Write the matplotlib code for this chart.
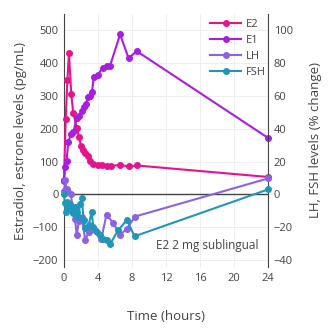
import numpy as np
import matplotlib
matplotlib.use("Agg")
import matplotlib.pyplot as plt

plt.rcParams['font.family'] = ['Open Sans', 'DejaVu Sans']

# estradiol (pg/mL)
t_e2 = [0, 0.2, 0.4, 0.58, 0.85, 1.08, 1.5, 1.75, 2.0, 2.25, 2.5, 2.8, 3.05, 3.45, 4.0, 4.5, 5.0, 5.5, 6.6, 7.6, 8.55, 24]
e2 = [45, 230, 348, 430, 307, 249, 203, 176, 148, 135, 127, 117, 103, 94, 90, 88, 87, 86, 90, 85, 88, 53]

# estrone (pg/mL)
t_e1 = [0, 0.15, 0.3, 0.5, 0.8, 1.1, 1.5, 1.8, 2.1, 2.35, 2.6, 2.8, 3.05, 3.3, 3.5, 4.0, 4.55, 5.0, 5.4, 6.6, 7.6, 8.55, 24]
e1 = [40, 83, 103, 158, 185, 189, 234, 239, 255, 265, 275, 295, 300, 312, 358, 364, 386, 391, 390, 487, 414, 436, 172]

# LH (% change)
t_lh = [0, 0.15, 0.3, 0.5, 0.8, 1.05, 1.3, 1.5, 1.75, 2.1, 2.5, 2.9, 3.25, 3.65, 4.4, 5.0, 5.8, 6.6, 7.4, 8.35, 24]
lh = [2, 8.5, 3.4, 1.4, 0.4, -10.7, -15, -24.8, -16, -13.7, -27.9, -22.8, -20.8, -21.8, -26.9, -12.3, -17.6, -24.7, -20.8, -13.5, 9.7]

# FSH (% change)
t_fsh = [0, 0.1, 0.2, 0.3, 0.5, 0.7, 0.9, 1.1, 1.3, 1.5, 1.7, 1.9, 2.1, 2.3, 2.5, 2.9, 3.25, 3.45, 3.85, 4.2, 4.6, 5.0, 5.4, 6.4, 7.4, 8.3, 24]
fsh = [0, -5.5, -11, -4.6, -7.7, -5.6, -9.7, -11.6, -7.7, -10.7, -13.7, -5.7, -2, -15.7, -20.6, -18.8, -10.7, -19.8, -22.8, -24.8, -26.9, -27.9, -30.5, -21.6, -15.6, -25.5, 3]

c_e2 = "#e5138c"
c_e1 = "#a81ee0"
c_lh = "#8a63e3"
c_fsh = "#2196b8"
grey = "#444444"

fig = plt.figure(figsize=(3.3, 3.3), dpi=100)
ax = fig.add_axes([64/330, 1-267/330, (268-64)/330, (267-14)/330])
ax2 = ax.twinx()

ax.set_xlim(0, 24)
ax.set_ylim(-221, 549)
ax2.set_ylim(-221/5, 549/5)

ax.set_xticks([0, 4, 8, 12, 16, 20, 24])
ax.set_yticks([-200, -100, 0, 100, 200, 300, 400, 500])
ax2.set_yticks([-40, -20, 0, 20, 40, 60, 80, 100])
ax.grid(True, color="#eeeeee", lw=0.8)
ax.set_axisbelow(True)
ax.axhline(0, color=grey, lw=1.0, zorder=1)

kw = dict(lw=1.5, marker="o", ms=4, clip_on=False, zorder=3)
l1, = ax.plot(t_e2, e2, color=c_e2, label="E2", **kw)
l2, = ax.plot(t_e1, e1, color=c_e1, label="E1", **kw)
l3, = ax2.plot(t_lh, lh, color=c_lh, label="LH", **kw)
l4, = ax2.plot(t_fsh, fsh, color=c_fsh, label="FSH", **kw)

for a in (ax, ax2):
    for s in ("top", "bottom"):
        a.spines[s].set_visible(False)
    a.spines["left"].set_color(grey)
    a.spines["right"].set_color(grey)
    a.tick_params(length=0, labelsize=8, labelcolor=grey, pad=4)
ax2.spines["left"].set_visible(False)
ax.spines["right"].set_visible(False)

ax.set_xlabel("Time (hours)", fontsize=9.5, color=grey, labelpad=19)
ax.set_ylabel("Estradiol, estrone levels (pg/mL)", fontsize=9.5, color=grey, labelpad=4)
ax2.set_ylabel("LH, FSH levels (% change)", fontsize=9.5, color=grey, labelpad=12)

ax.text(22.9, -155, "E2 2 mg sublingual", ha="right", va="center", fontsize=8.5, color=grey)

leg = fig.legend(handles=[l1, l2, l3, l4], loc="upper left",
                 bbox_to_anchor=(200/330, 1-9/330), frameon=False,
                 fontsize=8, handlelength=2.8, labelspacing=0.45, handletextpad=0.4)
for t in leg.get_texts():
    t.set_color(grey)

fig.savefig("out.png", dpi=100)
